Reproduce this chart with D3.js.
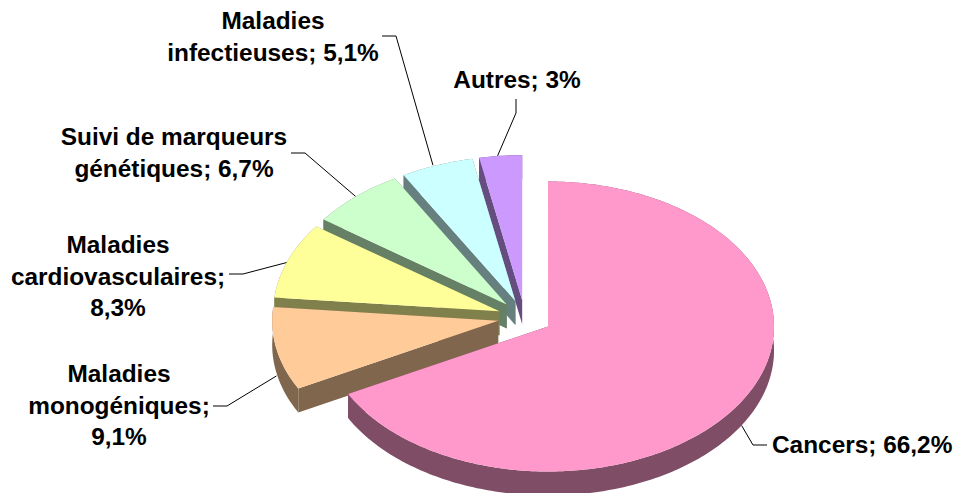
<!DOCTYPE html>
<html><head><meta charset="utf-8">
<style>html,body{margin:0;padding:0;background:#fff}svg{display:block}text{font-family:"Liberation Sans",Arial,sans-serif;font-weight:700;font-size:24.4px;fill:#000}</style>
<script src="https://cdn.jsdelivr.net/npm/d3@7/dist/d3.min.js"></script>
</head><body><svg id="c" width="955" height="493"></svg>
<script>
const categories=["Cancers","Maladies monogéniques","Maladies cardiovasculaires","Suivi de marqueurs génétiques","Maladies infectieuses","Autres"];
const values=[66.2,9.1,8.3,6.7,5.1,3];
const valueLabels=["66,2%","9,1%","8,3%","6,7%","5,1%","3%"];
const colors=["#FF99CC","#FFCC99","#FFFF99","#CCFFCC","#CCFFFF","#CC99FF"];
const labelLines=[["Cancers; 66,2%"],["Maladies","monogéniques;","9,1%"],["Maladies","cardiovasculaires;","8,3%"],["Suivi de marqueurs","génétiques; 6,7%"],["Maladies","infectieuses; 5,1%"],["Autres; 3%"]];

// layout
const cx=524.8,cy=317.5,rx=226,ry=145,depth=24,explode=0.12;
const labelX=[772,119,118,174,273,517];
const labelY=[445,374,245,137,21,80];
const lineH=31.5;
const leaderElbows=[[[753,445],[767,445]],[[227,406],[213,406]],[[243,274],[229,274]],[[305,153],[291,153]],[[396,36],[382,36]],[[516,113],[516,99]]];
const leaderStartShift=[[0,0],[0,27],[0,2],[0,0],[-4,0],[-3,0]];

const svg=d3.select("#c");
const arcs=d3.pie().sort(null).value(d=>d)(values);
const pt=(c,a,d=0)=>[c[0]+rx*Math.sin(a),c[1]-ry*Math.cos(a)+d];
const center=s=>{const m=(s.startAngle+s.endAngle)/2;return [cx+explode*rx*Math.sin(m),cy-explode*ry*Math.cos(m)];};
const line=d3.line();
function arcPts(c,a0,a1,d){
  const n=Math.max(2,Math.ceil(Math.abs(a1-a0)*60));
  return d3.range(n+1).map(i=>pt(c,a0+(a1-a0)*i/n,d));
}
const order=d3.range(values.length).reverse();
// leaders drawn beneath slices
const leaders=svg.append("g");
arcs.forEach((s,i)=>{
  const m=(s.startAngle+s.endAngle)/2;
  const c=center(s);
  let st=pt(c,m);
  st=[st[0]+leaderStartShift[i][0],st[1]+leaderStartShift[i][1]];
  if(i===0) st=[st[0],st[1]+depth];
  leaders.append("path").attr("d",line([st,...leaderElbows[i]])).attr("fill","none").attr("stroke","#000").attr("stroke-width",1);
});
const g=svg.append("g");
order.forEach(i=>{
  const s=arcs[i],c=center(s),col=colors[i];
  const side=d3.rgb(col);
  const dark=d3.rgb(side.r*.5,side.g*.5,side.b*.5).formatHex();
  const a0=s.startAngle,a1=s.endAngle;
  const sg=g.append("g").attr("class","slice");
  // radial walls
  [a0,a1].forEach(a=>{
    const o=pt(c,a);
    sg.append("path").attr("d",line([c,o,[o[0],o[1]+depth],[c[0],c[1]+depth]])+"Z").attr("fill",dark);
  });
  // rim
  const top=arcPts(c,a0,a1,0),bot=arcPts(c,a1,a0,depth);
  sg.append("path").attr("d",line(top.concat(bot))+"Z").attr("fill",dark);
  // top face
  sg.append("path").attr("d",line([c,...top])+"Z").attr("fill",col);
});
const t=svg.append("g");
labelLines.forEach((ls,i)=>{
  ls.forEach((l,j)=>{
    t.append("text").attr("x",labelX[i]).attr("y",labelY[i]+j*lineH+8)
     .attr("text-anchor",i===0?"start":"middle").text(l);
  });
});
</script></body></html>
